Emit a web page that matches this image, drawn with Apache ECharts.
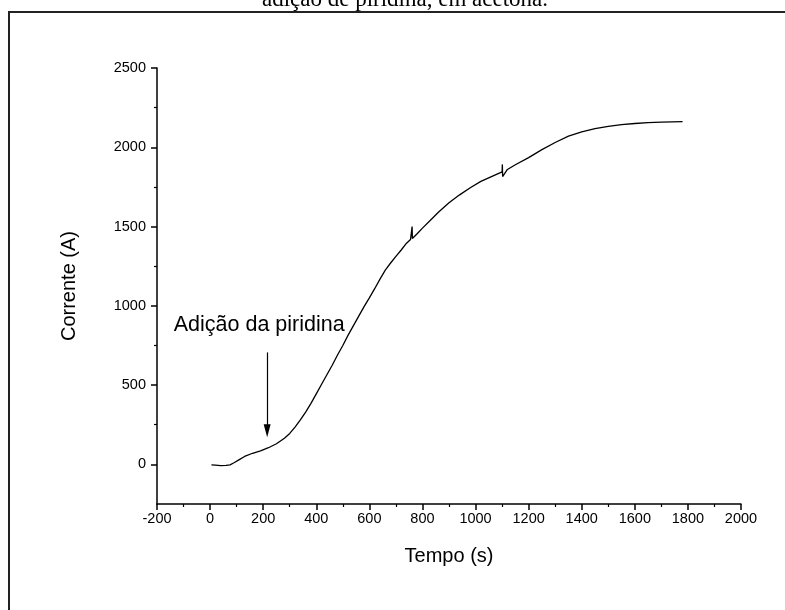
<!DOCTYPE html>
<html>
<head>
<meta charset="utf-8">
<script src="https://cdn.jsdelivr.net/npm/echarts@6/dist/echarts.min.js"></script>
<style>
    html, body { margin: 0; padding: 0; background: #fff; }
    #chart { width: 785px; height: 610px; }
</style>
</head>
<body>
<div id="chart"></div>
<script>
    // tempo (s) e corrente (A)
    var tempo = [5, 20, 40, 60, 75, 90, 110, 130, 160, 190, 220, 250, 280, 300, 320, 340, 360, 380, 400,
        420, 440, 460, 480, 500, 520, 540, 560, 580, 600, 620, 640, 660, 680, 700, 720, 740, 755,
        760, 761, 762, 780, 800, 830, 860, 900, 940, 980, 1020, 1060, 1100, 1101, 1102, 1120,
        1150, 1200, 1250, 1300, 1350, 1400, 1450, 1500, 1550, 1600, 1650, 1700, 1780];
    var corrente = [-3, -5, -8, -7, -3, 10, 30, 50, 70, 85, 105, 130, 165, 195, 235, 280, 330, 385, 445,
        505, 565, 625, 690, 750, 815, 875, 935, 995, 1050, 1108, 1168, 1225, 1270, 1312, 1352, 1395, 1418,
        1420, 1500, 1425, 1455, 1490, 1540, 1590, 1650, 1700, 1745, 1785, 1815, 1845, 1892, 1815, 1860,
        1890, 1935, 1985, 2030, 2070, 2097, 2117, 2132, 2143, 2150, 2155, 2158, 2162];

    var yMajorTicks = [0, 500, 1000, 1500, 2000, 2500];
    var yMinorTicks = [250, 750, 1250, 1750, 2250];

    var seta = { x: 215, topo: 706, base: 212 };
    var rotulo = { x: 185, y: 876, texto: 'Adição da piridina' };

    var pontos = tempo.map(function (t, i) { return [t, corrente[i]]; });

    var chart = echarts.init(document.getElementById('chart'));
    var option = {
        backgroundColor: '#fff',
        animation: false,
        textStyle: { fontFamily: 'Arial, "Liberation Sans", sans-serif', color: '#000' },
        graphic: [
            {
                type: 'rect',
                shape: { x: 9, y: 12, width: 820, height: 640 },
                style: { fill: 'none', stroke: '#222', lineWidth: 2 },
                silent: true
            },
            {
                type: 'text',
                style: {
                    text: 'adição de piridina, em acetona.',
                    x: 405, y: 11,
                    align: 'center', verticalAlign: 'bottom',
                    font: '23px "Liberation Serif", "Times New Roman", serif',
                    fill: '#000'
                }
            }
        ],
        grid: { left: 157, right: 44, top: 68, bottom: 106 },
        xAxis: {
            type: 'value',
            min: -200, max: 2000, interval: 200,
            name: 'Tempo (s)',
            nameLocation: 'middle',
            nameGap: 42,
            nameTextStyle: { fontSize: 20, color: '#000' },
            axisLine: { show: true, onZero: false, lineStyle: { color: '#000', width: 1.5 } },
            axisTick: { show: true, length: 6, lineStyle: { color: '#000', width: 1.5 } },
            minorTick: { show: true, splitNumber: 2, length: 3, lineStyle: { color: '#000', width: 1.2 } },
            axisLabel: {
                fontSize: 14.5, color: '#000', margin: 7,
                formatter: function (v) { return String(v); }
            },
            splitLine: { show: false }
        },
        yAxis: [
            {
                type: 'value',
                min: -250, max: 2500,
                name: 'Corrente (A)',
                nameLocation: 'middle',
                nameRotate: 90,
                nameGap: 78,
                nameTextStyle: { fontSize: 20, color: '#000' },
                axisLine: { show: true, onZero: false, lineStyle: { color: '#000', width: 1.5 } },
                axisTick: { show: true, length: 6, customValues: yMajorTicks, lineStyle: { color: '#000', width: 1.5 } },
                axisLabel: {
                    fontSize: 14.5, color: '#000', margin: 11, customValues: yMajorTicks,
                    formatter: function (v) { return String(v); }
                },
                splitLine: { show: false }
            },
            {
                type: 'value',
                min: -250, max: 2500,
                position: 'left',
                axisLine: { show: false, onZero: false },
                axisTick: { show: true, length: 3, customValues: yMinorTicks, lineStyle: { color: '#000', width: 1.2 } },
                axisLabel: { show: false },
                splitLine: { show: false }
            }
        ],
        series: [
            {
                type: 'line',
                data: pontos,
                showSymbol: false,
                symbol: 'none',
                lineStyle: { color: '#000', width: 1.3 },
                markLine: {
                    silent: true,
                    symbol: ['none', 'triangle'],
                    symbolSize: [7, 13],
                    label: { show: false },
                    lineStyle: { color: '#000', width: 1.2, type: 'solid' },
                    data: [[{ coord: [seta.x, seta.topo] }, { coord: [seta.x, seta.base] }]]
                },
                markPoint: {
                    silent: true,
                    symbol: 'circle',
                    symbolSize: 0,
                    label: {
                        show: true,
                        position: 'inside',
                        formatter: rotulo.texto,
                        fontSize: 21.5,
                        color: '#000'
                    },
                    data: [{ coord: [rotulo.x, rotulo.y] }]
                }
            }
        ]
    };
    chart.setOption(option);
    window.addEventListener('resize', function () {
        chart.resize();
    });
</script>
</body>
</html>
